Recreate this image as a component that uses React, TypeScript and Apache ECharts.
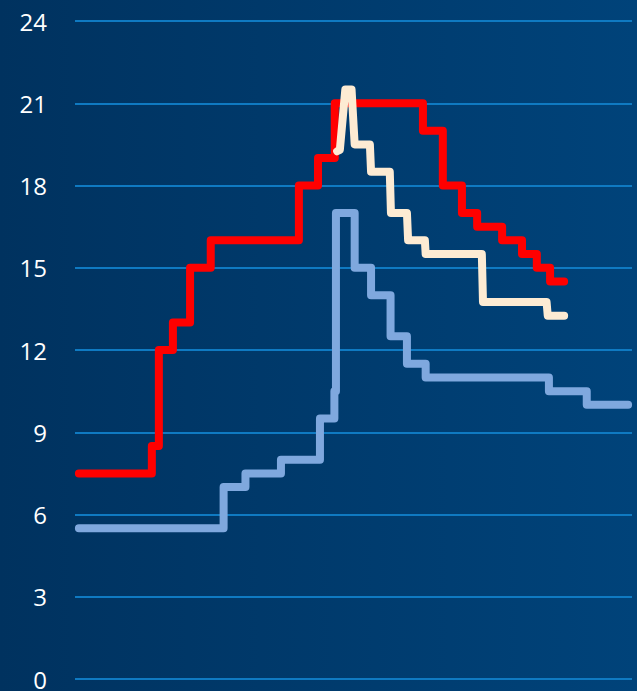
import React, { useEffect, useRef } from "react";
import * as echarts from "echarts";

// x values: days relative to the big emergency hike (day 0)
const yTicks = [0, 3, 6, 9, 12, 15, 18, 21, 24];

// Red series: change points [day, rate]
const redDays = [-659, -472, -454, -418, -374, -321, -95, -46, -3, 223, 274, 323, 362, 426, 477, 515, 549, 585];
const redRates = [7.5, 8.5, 12, 13, 15, 16, 18, 19, 21, 20, 18, 17, 16.5, 16, 15.5, 15, 14.5, 14.5];

// Cream series: explicit points
const creamDays = [3, 10, 24, 40, 48, 87, 90, 138, 141, 182, 185, 228, 230, 374, 377, 540, 543, 585];
const creamRates = [19.25, 19.3, 21.5, 21.5, 19.5, 19.5, 18.5, 18.5, 17, 17, 16, 16, 15.5, 15.5, 13.75, 13.75, 13.25, 13.25];

// Light blue series: change points [day, rate]
const blueDays = [-659, -288, -232, -141, -41, -4, 0, 48, 90, 140, 182, 230, 546, 643, 749];
const blueRates = [5.5, 7, 7.5, 8, 9.5, 10.5, 17, 15, 14, 12.5, 11.5, 11, 10.5, 10, 10];

const zip = (xs: number[], ys: number[]) => xs.map((x, i) => [x, ys[i]]);

export default function App() {
  const ref = useRef<HTMLDivElement>(null);
  useEffect(() => {
    if (!ref.current) return;
    const chart = echarts.init(ref.current, undefined, { renderer: "svg" });
    chart.setOption({
      animation: false,
      backgroundColor: new echarts.graphic.LinearGradient(0, 0, 1, 0, [
        { offset: 0, color: "#00325f" },
        { offset: 1, color: "#00437a" },
      ]),
      grid: { left: 75, right: 5, top: 21, bottom: 11, containLabel: false },
      xAxis: {
        type: "value",
        min: -669,
        max: 759,
        show: false,
      },
      yAxis: {
        type: "value",
        min: 0,
        max: 24,
        interval: 3,
        axisLine: { show: false },
        axisTick: { show: false },
        axisLabel: {
          color: "#ffffff",
          fontSize: 24,
          fontFamily: "Open Sans",
          margin: 28,
          formatter: (v: number) => (yTicks.includes(v) ? String(v) : ""),
        },
        splitLine: { lineStyle: { color: "#0f7ac2", width: 2 } },
      },
      series: [
        {
          type: "line",
          data: zip(blueDays, blueRates),
          step: "end",
          symbol: "none",
          lineStyle: { color: "#7fa8de", width: 8, cap: "round", join: "round" },
        },
        {
          type: "line",
          data: zip(redDays, redRates),
          step: "end",
          symbol: "none",
          lineStyle: { color: "#ff0000", width: 8, cap: "round", join: "round" },
        },
        {
          type: "line",
          data: zip(creamDays, creamRates),
          symbol: "none",
          lineStyle: { color: "#fdebd3", width: 8, cap: "round", join: "round" },
        },
      ],
    });
    return () => chart.dispose();
  }, []);
  return (
    <div
      ref={ref}
      style={{ position: "fixed", left: 0, top: 0, width: 637, height: 691 }}
    />
  );
}
